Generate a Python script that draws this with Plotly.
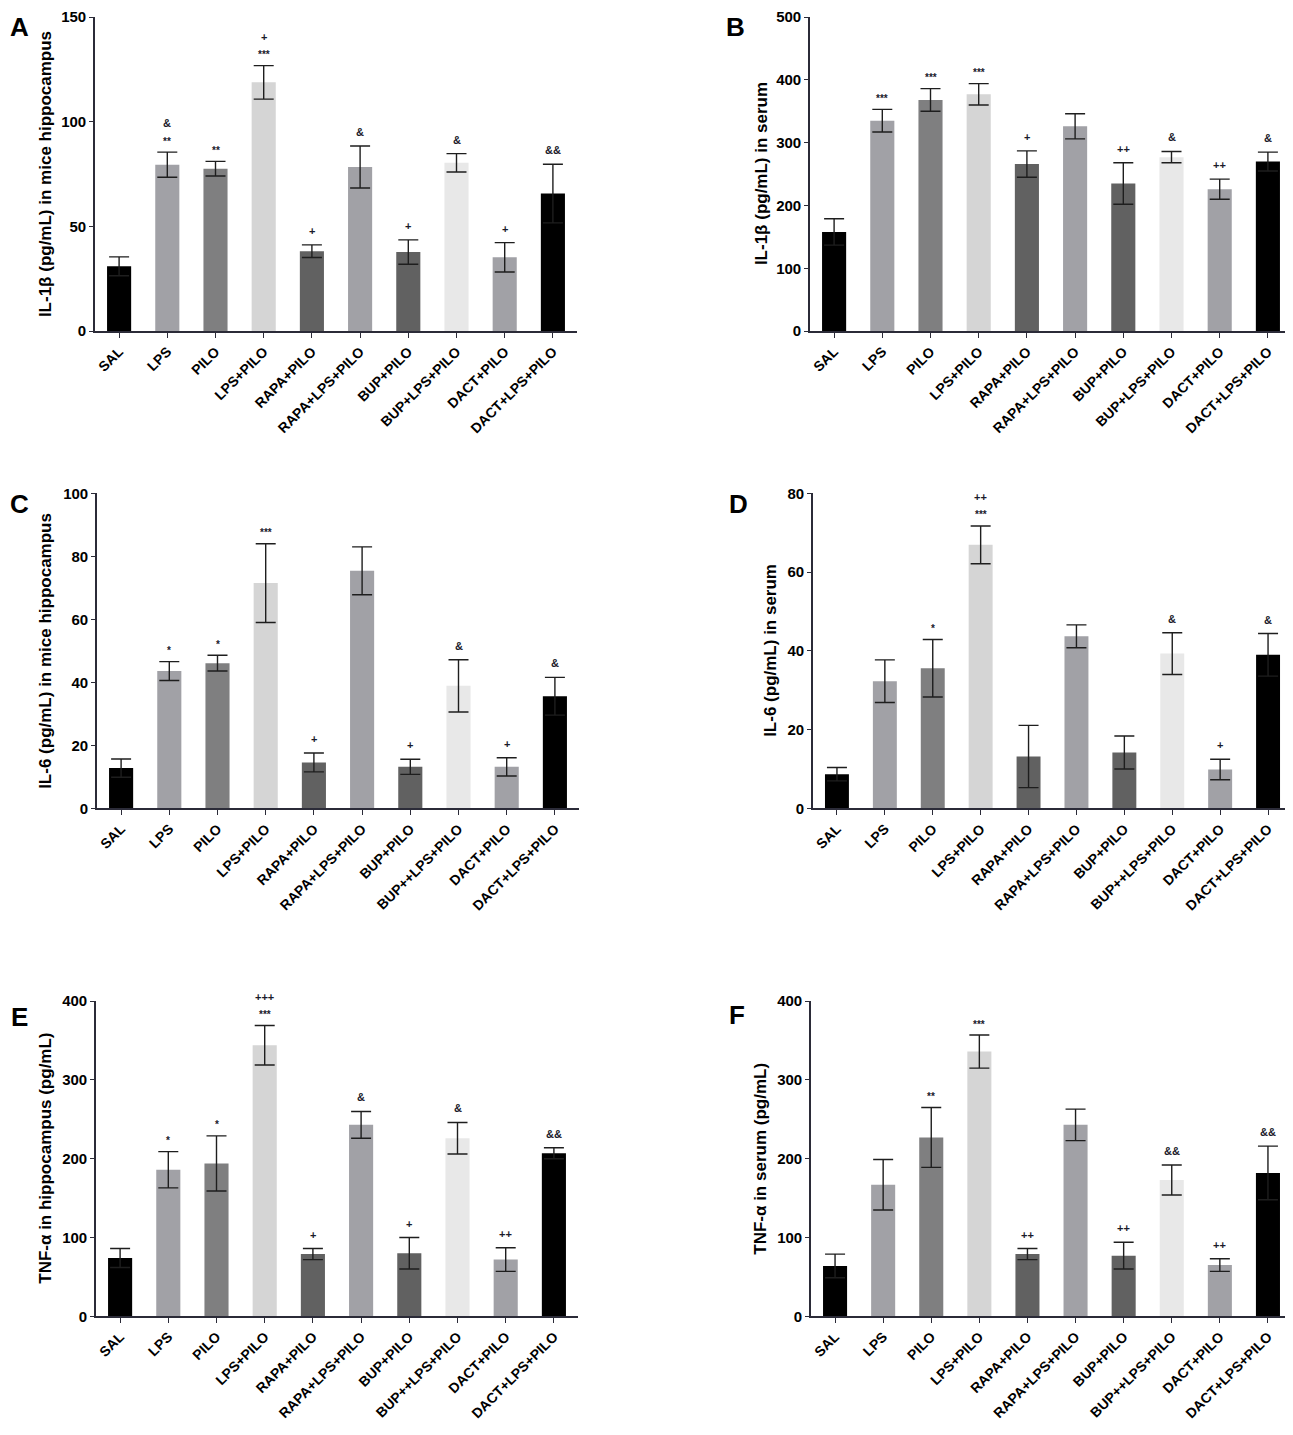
import plotly.graph_objects as go

# group names (panels C-F label the 8th group "BUP++LPS+PILO")
GROUPS_AB = ["SAL", "LPS", "PILO", "LPS+PILO", "RAPA+PILO", "RAPA+LPS+PILO",
             "BUP+PILO", "BUP+LPS+PILO", "DACT+PILO", "DACT+LPS+PILO"]
GROUPS_CF = ["SAL", "LPS", "PILO", "LPS+PILO", "RAPA+PILO", "RAPA+LPS+PILO",
             "BUP+PILO", "BUP++LPS+PILO", "DACT+PILO", "DACT+LPS+PILO"]

BAR_COLORS = ["#000000", "#a1a1a6", "#7f7f80", "#d5d5d5", "#616161",
              "#a1a1a6", "#616161", "#e8e8e8", "#a1a1a6", "#000000"]

# A - IL-1b hippocampus
il1b_hip = [31, 79.5, 77.6, 118.8, 38.2, 78.4, 37.8, 80.4, 35.3, 65.7]
il1b_hip_sem = [4.5, 6, 3.5, 8, 3, 10, 5.8, 4.4, 7, 14]
il1b_hip_sig = [[], ["**", "&"], ["**"], ["***", "+"], ["+"], ["&"],
                ["+"], ["&"], ["+"], ["&&"]]

# B - IL-1b serum
il1b_ser = [158, 335, 368, 377, 266, 326, 235, 277, 226, 270]
il1b_ser_sem = [21, 18, 18, 17, 21, 20, 33, 9, 16, 15]
il1b_ser_sig = [[], ["***"], ["***"], ["***"], ["+"], [],
                ["++"], ["&"], ["++"], ["&"]]

# C - IL-6 hippocampus
il6_hip = [12.8, 43.6, 46.1, 71.5, 14.6, 75.4, 13.2, 38.9, 13.2, 35.6]
il6_hip_sem = [2.9, 3, 2.5, 12.5, 3, 7.6, 2.4, 8.3, 2.9, 6]
il6_hip_sig = [[], ["*"], ["*"], ["***"], ["+"], [],
               ["+"], ["&"], ["+"], ["&"]]

# D - IL-6 serum
il6_ser = [8.7, 32.3, 35.6, 66.9, 13.2, 43.7, 14.2, 39.3, 9.9, 39.0]
il6_ser_sem = [1.7, 5.4, 7.3, 4.8, 7.9, 2.9, 4.2, 5.3, 2.6, 5.4]
il6_ser_sig = [[], [], ["*"], ["***", "++"], [], [],
               [], ["&"], ["+"], ["&"]]

# E - TNF-a hippocampus
tnf_hip = [74, 186, 194, 344, 79, 243, 80, 226, 72, 207]
tnf_hip_sem = [12, 23, 35, 25, 7, 17, 20, 20, 15, 7]
tnf_hip_sig = [[], ["*"], ["*"], ["***", "+++"], ["+"], ["&"],
               ["+"], ["&"], ["++"], ["&&"]]

# F - TNF-a serum
tnf_ser = [64, 167, 227, 336, 79, 243, 77, 173, 65, 182]
tnf_ser_sem = [15, 32, 38, 21, 7, 20, 17, 19, 8, 34]
tnf_ser_sig = [[], [], ["**"], ["***"], ["++"], [],
               ["++"], ["&&"], ["++"], ["&&"]]

# the page body adds an 8px margin, so lay out in page pixels minus that
OFF = 8
W, H = 1293 - OFF, 1435 - OFF
AXIS_COLOR = "#2b2b38"
FONT = "Liberation Sans, Arial, sans-serif"

panels = [
    dict(letter="A", title="IL-1β (pg/mL) in mice hippocampus", groups=GROUPS_AB,
         y=il1b_hip, err=il1b_hip_sem, sig=il1b_hip_sig, ymax=150, dtick=50,
         px=(95, 577), py=(8, 326), title_x=45, letter_xy=(19, 18)),
    dict(letter="B", title="IL-1β (pg/mL) in serum", groups=GROUPS_AB,
         y=il1b_ser, err=il1b_ser_sem, sig=il1b_ser_sig, ymax=500, dtick=100,
         px=(810, 1292), py=(8, 326), title_x=761, letter_xy=(735, 18)),
    dict(letter="C", title="IL-6 (pg/mL) in mice hippocampus", groups=GROUPS_CF,
         y=il6_hip, err=il6_hip_sem, sig=il6_hip_sig, ymax=100, dtick=20,
         px=(97, 579), py=(490, 809), title_x=46, letter_xy=(19, 501)),
    dict(letter="D", title="IL-6 (pg/mL) in serum", groups=GROUPS_CF,
         y=il6_ser, err=il6_ser_sem, sig=il6_ser_sig, ymax=80, dtick=20,
         px=(813, 1292), py=(490, 809), title_x=771, letter_xy=(738, 501)),
    dict(letter="E", title="TNF-α in hippocampus (pg/mL)", groups=GROUPS_CF,
         y=tnf_hip, err=tnf_hip_sem, sig=tnf_hip_sig, ymax=400, dtick=100,
         px=(96, 578), py=(1004, 1323), title_x=46, letter_xy=(19, 1020)),
    dict(letter="F", title="TNF-α in serum (pg/mL)", groups=GROUPS_CF,
         y=tnf_ser, err=tnf_ser_sem, sig=tnf_ser_sig, ymax=400, dtick=100,
         px=(811, 1292), py=(1004, 1323), title_x=761, letter_xy=(737, 1018)),
]


def fx(px):
    return min(max((px - OFF) / W, 0), 1)


def fy(py):
    return min(max(1 - (py - OFF) / H, 0), 1)


fig = go.Figure()
annotations = []
layout_axes = {}

for i, p in enumerate(panels):
    n = "" if i == 0 else str(i + 1)
    fig.add_trace(go.Bar(
        x=p["groups"], y=p["y"],
        error_y=dict(type="data", array=p["err"], visible=True,
                     color="#1e1e1e", thickness=1.4, width=10),
        marker=dict(color=BAR_COLORS, line=dict(width=0)),
        width=0.5, xaxis="x" + n, yaxis="y" + n, showlegend=False,
    ))
    x0, x1 = p["px"]
    ytop, ybot = p["py"]
    layout_axes["xaxis" + n] = dict(
        domain=[fx(x0), fx(x1)], anchor="y" + n,
        type="category", categoryorder="array", categoryarray=p["groups"],
        range=[-0.5, 9.5], showline=True, linecolor=AXIS_COLOR, linewidth=1.6,
        ticks="outside", ticklen=5, tickwidth=1.4, tickcolor=AXIS_COLOR,
        tickangle=-45, showgrid=False, zeroline=False,
        tickfont=dict(family=FONT, size=14, color="#000000", weight="bold"),
    )
    layout_axes["yaxis" + n] = dict(
        domain=[fy(ybot), fy(ytop)], anchor="x" + n,
        range=[0, p["ymax"]], dtick=p["dtick"], showline=True,
        linecolor=AXIS_COLOR, linewidth=1.6, ticks="outside", ticklen=4,
        tickwidth=1.4, tickcolor=AXIS_COLOR, showgrid=False, zeroline=False,
        tickfont=dict(family=FONT, size=15, color="#000000", weight="bold"),
    )
    # y-axis title as rotated text
    annotations.append(dict(
        x=fx(p["title_x"]), y=fy((ytop + ybot) / 2), xref="paper", yref="paper",
        text=p["title"], textangle=-90, showarrow=False,
        xanchor="center", yanchor="middle",
        font=dict(family=FONT, size=17, color="#000000", weight="bold"),
    ))
    # panel letter
    lx, ly = p["letter_xy"]
    annotations.append(dict(
        x=fx(lx), y=fy(ly), xref="paper", yref="paper", text=p["letter"],
        showarrow=False, xanchor="center", yanchor="middle",
        font=dict(family=FONT, size=26, color="#000000", weight="bold"),
    ))
    # significance marks above the error bars
    for j, marks in enumerate(p["sig"]):
        for k, s in enumerate(marks):
            shift = 14 + 15 * k - (3 if "*" in s else 0)
            annotations.append(dict(
                x=p["groups"][j], y=p["y"][j] + p["err"][j],
                xref="x" + n, yref="y" + n, text=s, showarrow=False,
                xanchor="center", yanchor="middle", yshift=shift,
                font=dict(family=FONT, size=10 if "*" in s else 11,
                          color="#1a1a2a", weight="bold"),
            ))

fig.update_layout(
    width=W, height=H, margin=dict(l=0, r=0, t=0, b=0),
    plot_bgcolor="white", paper_bgcolor="white",
    annotations=annotations, bargap=0.5,
    **layout_axes,
)

fig.write_html("out.html")
